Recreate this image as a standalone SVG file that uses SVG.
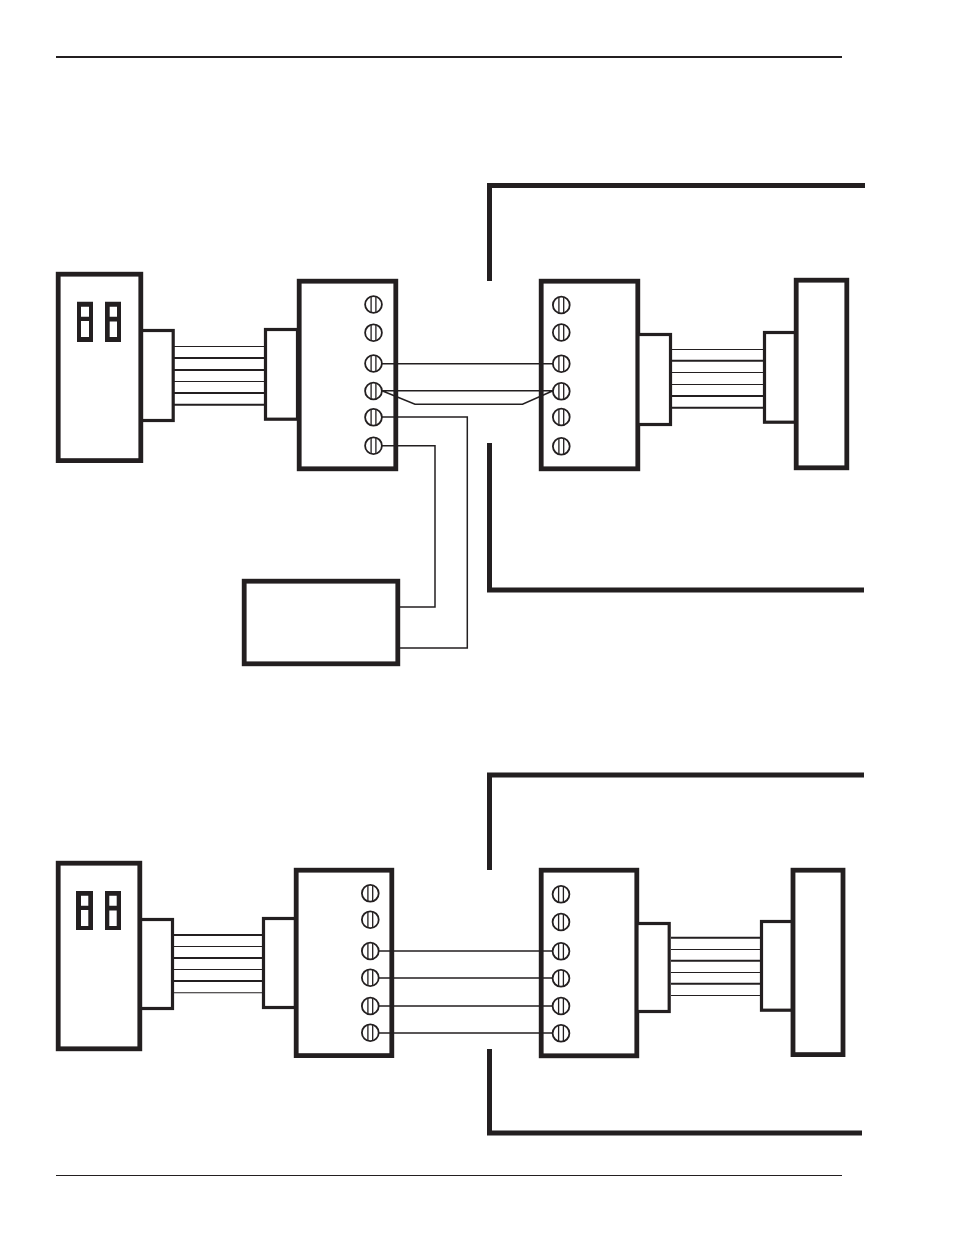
<svg xmlns="http://www.w3.org/2000/svg" width="954" height="1235" viewBox="0 0 954 1235">
<style>
.b{fill:#fff;stroke:#231f20;stroke-width:4.8}
.c{fill:#fff;stroke:#231f20;stroke-width:3.2}
.e{fill:none;stroke:#231f20;stroke-width:5}
.t{fill:none;stroke:#231f20;stroke-width:1.1}
.k{fill:none;stroke:#231f20;stroke-width:2}
.w{fill:none;stroke:#231f20;stroke-width:1.5}
.s circle{fill:#fff;stroke:#231f20;stroke-width:1.8}
.s path{fill:none;stroke:#231f20;stroke-width:1.3}
</style>
<defs>
<g id="screw" class="s"><circle r="8.400"/><path d="M-2.400-8V8M2.400-8V8"/></g>
</defs>
<rect width="954" height="1235" fill="#fff"/>
<g id="page-rules">
<path d="M56 57H842" fill="none" stroke="#231f20" stroke-width="2"/>
<path d="M56 1175.500H842" fill="none" stroke="#231f20" stroke-width="1.200"/>
</g>
<g id="enclosure-top-upper"><path class="e" d="M489.500 281V185.500H865"/></g>
<g id="enclosure-top-lower"><path class="e" d="M489.500 443V590H864"/></g>
<g id="enclosure-bottom-upper"><path class="e" d="M489.500 870V775H864"/></g>
<g id="enclosure-bottom-lower"><path class="e" d="M489.500 1049V1133H862"/></g>
<g id="top-left-connector"><rect class="c" x="141" y="330.500" width="32.200" height="90"/></g>
<g id="top-left-panel"><rect class="b" x="58.200" y="274.200" width="82.600" height="186.400"/>
<path fill="#231f20" fill-rule="evenodd" d="M77 301.700H93V342H77ZM81 306.700V316.700H89V306.700ZM81 321V337H89V321Z"/>
<path fill="#231f20" fill-rule="evenodd" d="M105 301.700H121V342H105ZM109.700 306.700V316.700H117V306.700ZM109.700 321.500V337H117V321.500Z"/></g>
<g id="top-block-connector-left"><rect class="c" x="265.500" y="329.500" width="32" height="89.700"/></g>
<g id="top-left-block"><rect class="b" x="299.200" y="281.200" width="96.600" height="187.600"/>
<use href="#screw" x="373.500" y="304.500"/><use href="#screw" x="373.500" y="332.700"/><use href="#screw" x="373.500" y="363.500"/><use href="#screw" x="373.500" y="391"/><use href="#screw" x="373.500" y="417.300"/><use href="#screw" x="373.500" y="445.700"/></g>
<g id="top-right-block"><rect class="b" x="541.200" y="281.200" width="96.600" height="187.600"/>
<use href="#screw" x="561.300" y="305"/><use href="#screw" x="561.300" y="332.500"/><use href="#screw" x="561.300" y="363.700"/><use href="#screw" x="561.300" y="391.300"/><use href="#screw" x="561.300" y="417"/><use href="#screw" x="561.300" y="446.300"/></g>
<g id="top-right-connector-a"><rect class="c" x="638" y="334.500" width="32.500" height="90"/></g>
<g id="top-right-connector-b"><rect class="c" x="764.500" y="332.500" width="31" height="89.700"/></g>
<g id="top-right-panel"><rect class="b" x="796.200" y="280.200" width="50.600" height="187.600"/></g>
<g id="aux-box"><rect class="b" x="244.200" y="581.200" width="153.600" height="82.600"/></g>
<g id="bottom-left-connector"><rect class="c" x="140" y="919.500" width="32.500" height="89"/></g>
<g id="bottom-left-panel"><rect class="b" x="58.200" y="863.200" width="81.600" height="185.600"/>
<path fill="#231f20" fill-rule="evenodd" d="M76 891H93V930H76ZM81 895.700V905.700H88.300V895.700ZM81 910V926H88.300V910Z"/>
<path fill="#231f20" fill-rule="evenodd" d="M105 891H121V930H105ZM109.300 895.700V905.700H116.700V895.700ZM109.300 910.500V926H116.700V910.500Z"/></g>
<g id="bottom-block-connector-left"><rect class="c" x="263.500" y="918.500" width="32" height="89"/></g>
<g id="bottom-left-block"><rect class="b" x="296.200" y="870.200" width="95.600" height="185.400"/>
<use href="#screw" x="370.300" y="893.300"/><use href="#screw" x="370.300" y="919.700"/><use href="#screw" x="370.300" y="951"/><use href="#screw" x="370.300" y="977.700"/><use href="#screw" x="370.300" y="1006"/><use href="#screw" x="370.300" y="1032.700"/></g>
<g id="bottom-right-block"><rect class="b" x="541.200" y="870.200" width="95.600" height="185.600"/>
<use href="#screw" x="561" y="894.300"/><use href="#screw" x="561" y="922"/><use href="#screw" x="561" y="951.300"/><use href="#screw" x="561" y="978.300"/><use href="#screw" x="561" y="1006"/><use href="#screw" x="561" y="1033.300"/></g>
<g id="bottom-right-connector-a"><rect class="c" x="637" y="923.500" width="32.200" height="88"/></g>
<g id="bottom-right-connector-b"><rect class="c" x="761.500" y="921.500" width="31" height="88.700"/></g>
<g id="bottom-right-panel"><rect class="b" x="793" y="870.200" width="50" height="184.400"/></g>
<g id="connectors">
<path class="t" d="M174 346.500H264"/><path class="k" d="M174 358H264M174 370H264M174 393H264M174 404.700H264"/><path class="t" d="M174 381.500H264"/>
<path class="t" d="M672 349.500H764M672 372.500H764M672 384.500H764"/><path class="k" d="M672 360.700H764M672 396H764M672 407.700H764"/>
<path class="k" d="M174 935H263M174 958H263M174 981H263"/><path class="t" d="M174 946.500H263M174 969.500H263M174 992.700H263"/>
<path class="k" d="M671 937.700H761M671 960.700H761M671 983.700H761"/><path class="t" d="M671 949.500H761M671 972.500H761M671 995.500H761"/>
<path class="w" d="M382 363.700H553"/>
<path class="w" d="M382 390.700H553M382 390.700L415 404.300H522.500L553 390.700"/>
<path class="w" d="M382 417H467.300V648H399M382 445.700H435V607H399"/>
<path class="w" d="M379 951H553M379 978H553M379 1006H553M379 1033H553"/>
</g>
</svg>
